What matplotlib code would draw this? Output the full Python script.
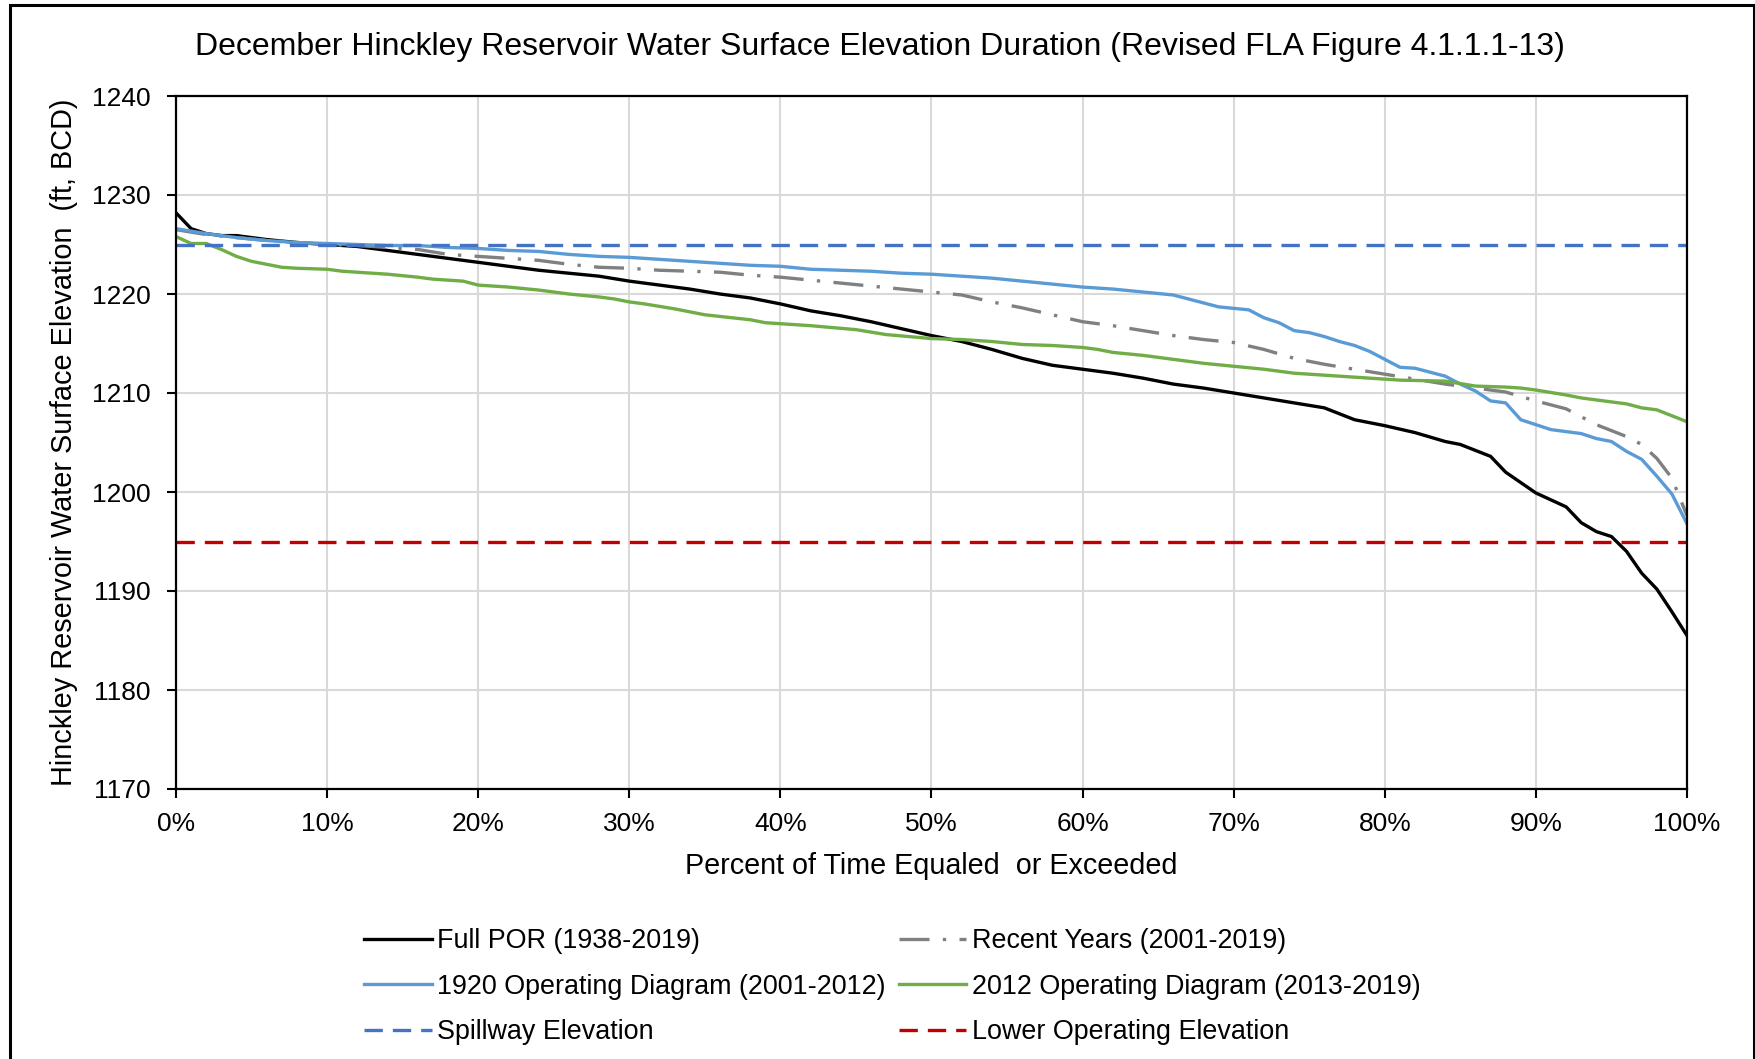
import matplotlib
matplotlib.use("Agg")
import matplotlib.pyplot as plt
from matplotlib.ticker import PercentFormatter, MultipleLocator
from matplotlib.patches import Rectangle

plt.rcParams['font.family'] = ['Liberation Sans', 'DejaVu Sans']

# ============================ DATA ============================
title = "December Hinckley Reservoir Water Surface Elevation Duration (Revised FLA Figure 4.1.1.1-13)"

# Full POR (1938-2019)
pct_por = [0, 1, 2, 3, 4, 6, 8, 10, 12, 14, 16, 18, 20, 22, 24, 26, 28, 30, 32, 34,
           36, 38, 40, 42, 44, 46, 48, 50, 52, 54, 56, 58, 60, 62, 64, 66, 68, 70,
           72, 74, 76, 78, 80, 82, 84, 85, 86, 87, 88, 90, 92, 93, 94, 95, 96, 97,
           98, 99, 100]
elev_por = [1228.2, 1226.6, 1226.1, 1225.9, 1225.9, 1225.5, 1225.2, 1225.0, 1224.8,
            1224.4, 1224.0, 1223.6, 1223.2, 1222.8, 1222.4, 1222.1, 1221.8, 1221.3,
            1220.9, 1220.5, 1220.0, 1219.6, 1219.0, 1218.3, 1217.8, 1217.2, 1216.5,
            1215.8, 1215.2, 1214.4, 1213.5, 1212.8, 1212.4, 1212.0, 1211.5, 1210.9,
            1210.5, 1210.0, 1209.5, 1209.0, 1208.5, 1207.3, 1206.7, 1206.0, 1205.1,
            1204.8, 1204.2, 1203.6, 1202.0, 1199.9, 1198.5, 1196.9, 1196.0, 1195.5,
            1194.0, 1191.8, 1190.2, 1187.9, 1185.5]

# Recent Years (2001-2019)
pct_recent = [0, 2, 4, 6, 8, 10, 12, 14, 16, 18, 20, 22, 24, 26, 28, 30, 32, 34, 36,
              38, 40, 42, 44, 46, 48, 50, 52, 54, 56, 58, 60, 62, 64, 66, 68, 70, 72,
              74, 76, 78, 80, 82, 84, 86, 88, 90, 92, 94, 96, 97, 98, 99, 100]
elev_recent = [1226.5, 1226.0, 1225.7, 1225.4, 1225.2, 1225.0, 1224.9, 1224.7, 1224.5,
               1224.0, 1223.8, 1223.6, 1223.4, 1223.0, 1222.7, 1222.6, 1222.4, 1222.3,
               1222.2, 1221.9, 1221.7, 1221.4, 1221.1, 1220.8, 1220.5, 1220.2, 1219.9,
               1219.2, 1218.6, 1217.9, 1217.2, 1216.8, 1216.3, 1215.8, 1215.4, 1215.1,
               1214.4, 1213.5, 1212.9, 1212.4, 1211.9, 1211.4, 1210.9, 1210.5, 1210.1,
               1209.2, 1208.4, 1206.8, 1205.6, 1204.8, 1203.4, 1201.4, 1197.6]

# 1920 Operating Diagram (2001-2012)
pct_1920 = [0, 2, 4, 6, 8, 10, 14, 16, 18, 20, 22, 24, 26, 28, 30, 32, 34, 36, 38, 40,
            42, 44, 46, 48, 50, 52, 54, 56, 58, 60, 62, 64, 66, 68, 69, 71, 72, 73, 74,
            75, 76, 77, 78, 79, 80, 81, 82, 83, 84, 85, 86, 87, 88, 89, 90, 91, 93, 94,
            95, 96, 97, 98, 99, 100]
elev_1920 = [1226.6, 1226.1, 1225.7, 1225.4, 1225.2, 1225.1, 1224.9, 1224.9, 1224.7,
             1224.6, 1224.4, 1224.3, 1224.0, 1223.8, 1223.7, 1223.5, 1223.3, 1223.1,
             1222.9, 1222.8, 1222.5, 1222.4, 1222.3, 1222.1, 1222.0, 1221.8, 1221.6,
             1221.3, 1221.0, 1220.7, 1220.5, 1220.2, 1219.9, 1219.1, 1218.7, 1218.4,
             1217.6, 1217.1, 1216.3, 1216.1, 1215.7, 1215.2, 1214.8, 1214.2, 1213.4,
             1212.6, 1212.5, 1212.1, 1211.7, 1210.9, 1210.2, 1209.2, 1209.0, 1207.3,
             1206.8, 1206.3, 1205.9, 1205.4, 1205.1, 1204.1, 1203.3, 1201.6, 1199.8,
             1196.8]

# 2012 Operating Diagram (2013-2019)
pct_2012 = [0, 1, 2, 3, 4, 5, 6, 7, 8, 10, 11, 12, 14, 16, 17, 19, 20, 22, 24, 26, 28,
            29, 30, 31, 33, 35, 38, 39, 42, 45, 47, 50, 52, 54, 56, 58, 60, 61, 62, 64,
            66, 68, 70, 72, 74, 76, 78, 81, 84, 86, 88, 89, 90, 92, 93, 94, 96, 97, 98,
            100]
elev_2012 = [1225.8, 1225.1, 1225.1, 1224.5, 1223.8, 1223.3, 1223.0, 1222.7, 1222.6,
             1222.5, 1222.3, 1222.2, 1222.0, 1221.7, 1221.5, 1221.3, 1220.9, 1220.7,
             1220.4, 1220.0, 1219.7, 1219.5, 1219.2, 1219.0, 1218.5, 1217.9, 1217.4,
             1217.1, 1216.8, 1216.4, 1215.9, 1215.5, 1215.4, 1215.2, 1214.9, 1214.8,
             1214.6, 1214.4, 1214.1, 1213.8, 1213.4, 1213.0, 1212.7, 1212.4, 1212.0,
             1211.8, 1211.6, 1211.3, 1211.2, 1210.7, 1210.6, 1210.5, 1210.3, 1209.8,
             1209.5, 1209.3, 1208.9, 1208.5, 1208.3, 1207.1]

spillway_elev = 1225
lower_op_elev = 1195

# ============================ PLOTTING ============================
fig = plt.figure(figsize=(17.56, 10.59), dpi=100)
ax = fig.add_axes([176 / 1756, 1 - 789 / 1059, 1511 / 1756, 693 / 1059])

l_por, = ax.plot(pct_por, elev_por, color='black', lw=2.4, label="Full POR (1938-2019)")
l_rec, = ax.plot(pct_recent, elev_recent, color='#808080', lw=2.4, dashes=(9, 4, 1, 4),
                 label="Recent Years (2001-2019)")
l_1920, = ax.plot(pct_1920, elev_1920, color='#5B9BD5', lw=2.4,
                  label="1920 Operating Diagram (2001-2012)")
l_2012, = ax.plot(pct_2012, elev_2012, color='#70AD47', lw=2.4,
                  label="2012 Operating Diagram (2013-2019)")
l_spill = ax.axhline(spillway_elev, color='#4472C4', lw=2.4, dashes=(5.5, 3),
                     label="Spillway Elevation")
l_low = ax.axhline(lower_op_elev, color='#C00000', lw=2.4, dashes=(5.5, 3),
                   label="Lower Operating Elevation")

ax.set_xlim(0, 100)
ax.set_ylim(1170, 1240)
ax.xaxis.set_major_locator(MultipleLocator(10))
ax.yaxis.set_major_locator(MultipleLocator(10))
ax.xaxis.set_major_formatter(PercentFormatter(decimals=0))

ax.grid(True, color='#D9D9D9', lw=1.5)
ax.set_axisbelow(True)
for s in ax.spines.values():
    s.set_linewidth(1.6)
    s.set_color('black')
ax.tick_params(direction='out', length=6.5, width=1.5, labelsize=19, pad=10)
ax.tick_params(axis='y', pad=12)

ax.set_xlabel("Percent of Time Equaled  or Exceeded", fontsize=20.7, va='center')
ax.xaxis.set_label_coords(0.5, -(866 - 789) / 693)
ax.set_ylabel("Hinckley Reservoir Water Surface Elevation  (ft, BCD)", fontsize=20.8, va='center')
ax.yaxis.set_label_coords(-(176 - 64) / 1511, 0.5)

fig.text(880 / 1756, 1 - 47 / 1059, title, fontsize=23, ha='center', va='center')

handles = [l_por, l_1920, l_spill, l_rec, l_2012, l_low]
fig.legend(handles=handles, labels=[h.get_label() for h in handles], ncol=2,
           loc='upper left', bbox_to_anchor=(340 / 1756, 1 - 904 / 1059),
           frameon=False, fontsize=19.4, handlelength=2.5, handletextpad=0.2,
           columnspacing=0.5, labelspacing=0.72)

# outer border
fig.patches.append(Rectangle((10 / 1756, -0.1), 1744 / 1756, 1.1 - 5 / 1059,
                             transform=fig.transFigure, fill=False, lw=2.2,
                             edgecolor='black'))

fig.savefig("out.png", dpi=100)
